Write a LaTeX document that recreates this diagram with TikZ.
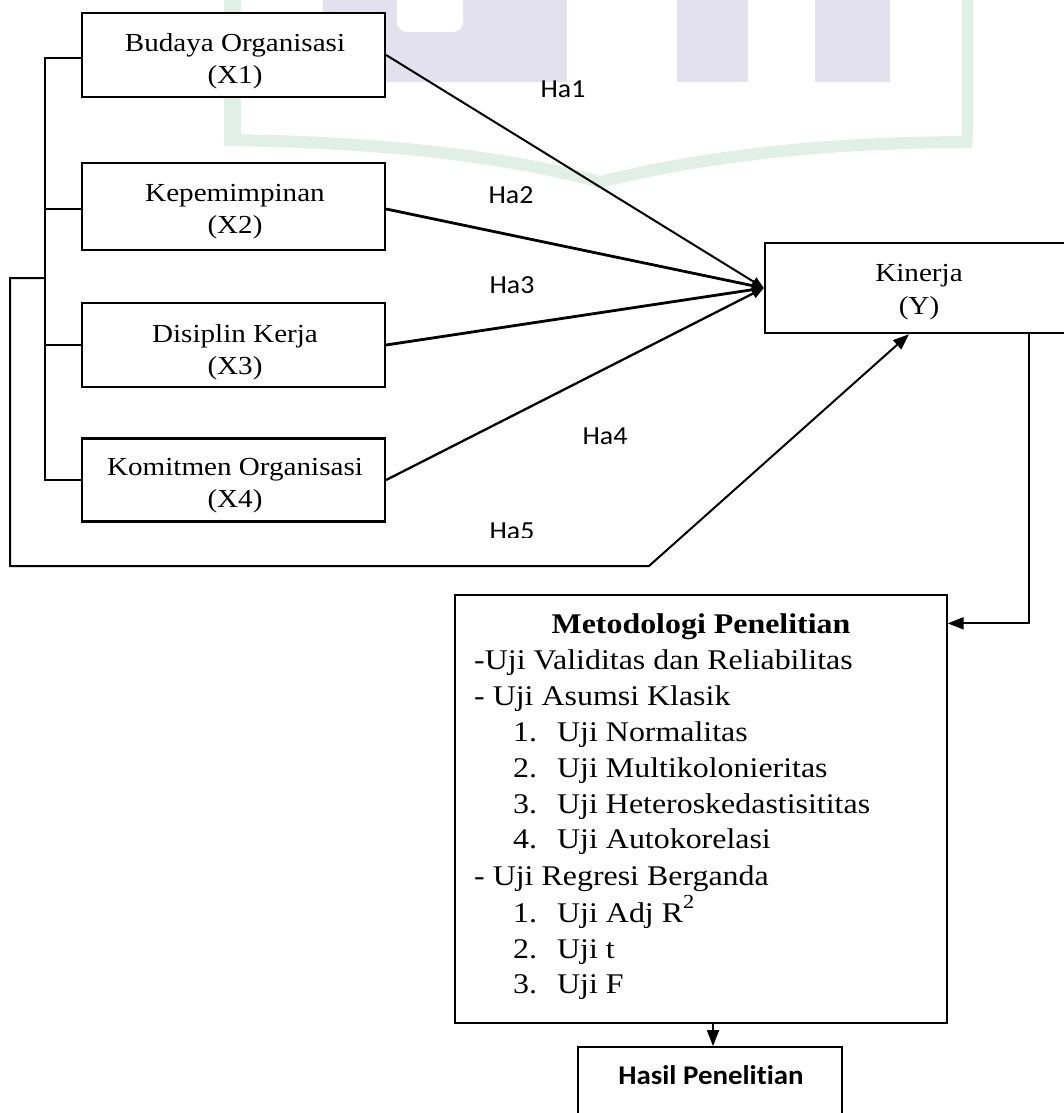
\documentclass[tikz,border=0pt]{standalone}
\usepackage{fontspec}
\setmainfont{Liberation Serif}[FakeStretch=1.12]
\newfontfamily\calib{Carlito}[FakeStretch=1.07, Ligatures=NoCommon]
\usetikzlibrary{arrows.meta,calc}
\definecolor{wmlav}{RGB}{226,225,237}
\definecolor{wmgreen}{RGB}{224,240,230}
\tikzset{
  varbox/.style={draw, line width=2.2pt, fill=white, inner sep=0pt},
  vartext/.style={font=\fontsize{26}{32}\selectfont, align=center, inner sep=0pt, anchor=north},
  halabel/.style={font=\calib\fontsize{26}{30}\selectfont, inner sep=0pt, anchor=base},
  mline/.style={font=\fontsize{28.5}{34}\selectfont, inner sep=0pt, anchor=base west},
  arr/.style={-{Triangle[length=12pt,width=10pt]}},
  bigarr/.style={-{Triangle[length=16pt,width=12pt]}}
}
\newcommand{\numitem}[2]{\makebox[44pt][l]{#1}#2}
\begin{document}
\begin{tikzpicture}[x=1pt,y=-1pt]
\useasboundingbox (0,0) rectangle (1064,1113);
% watermark
\fill[wmlav] (323,0) rectangle (567,82);
\fill[white, rounded corners=10pt] (397,-20) rectangle (463,32);
\fill[wmlav] (677,0) rectangle (748,82);
\fill[wmlav] (815,0) rectangle (890,82);
\draw[wmgreen, line width=17pt] (232,-10) -- (232,138);
\draw[wmgreen, line width=11pt] (967,-10) -- (967,142);
\draw[wmgreen, line width=12pt, line join=miter] (224,140) .. controls (400,142) and (520,160) .. (600,182) .. controls (680,162) and (800,142) .. (972,142);

% boxes
\node[varbox, minimum width=303pt, minimum height=84pt] (bx1) at (233.5,55) {};
\node[varbox, minimum width=303pt, minimum height=87pt] (bx2) at (233.5,206.5) {};
\node[varbox, minimum width=303pt, minimum height=84pt] (bx3) at (233.5,345) {};
\node[varbox, minimum width=303pt, minimum height=83pt] (bx4) at (233.5,480) {};
\node[vartext] (t1) at (235,33.2) {Budaya Organisasi\\(X1)};
\node[vartext] (t2) at (235,183.9) {Kepemimpinan\\(X2)};
\node[vartext] (t3) at (235,323.9) {Disiplin Kerja\\(X3)};
\node[vartext] (t4) at (235,458.2) {Komitmen Organisasi\\(X4)};

\node[draw, line width=2.4pt, fill=white, inner sep=0pt, minimum width=315pt, minimum height=90pt] (kin) at (922.5,288) {};
\node[vartext, font=\fontsize{26}{33}\selectfont] (tk) at (919,263.9) {Kinerja\\(Y)};

\node[draw, line width=1.3pt, fill=white, inner sep=0pt, minimum width=492pt, minimum height=428pt] (met) at (701,809) {};
\node[draw, line width=1.8pt, fill=white, inner sep=0pt, minimum width=264pt, minimum height=83pt] (has) at (710,1088.5) {};

% Metodologi text
\node[mline, anchor=base, font=\bfseries\fontsize{28.5}{34}\selectfont] (m0) at (701,633) {Metodologi Penelitian};
\node[mline] (m1) at (474,669) {-Uji Validitas dan Reliabilitas};
\node[mline] (m2) at (474,705) {- Uji Asumsi Klasik};
\node[mline] (m3) at (513,741) {\numitem{1.}{Uji Normalitas}};
\node[mline] (m4) at (513,777) {\numitem{2.}{Uji Multikolonieritas}};
\node[mline] (m5) at (513,813) {\numitem{3.}{Uji Heteroskedastisititas}};
\node[mline] (m6) at (513,848) {\numitem{4.}{Uji Autokorelasi}};
\node[mline] (m7) at (474,885) {- Uji Regresi Berganda};
\node[mline] (m8) at (513,922) {\numitem{1.}{Uji Adj R\raisebox{4pt}{\textsuperscript{2}}}};
\node[mline] (m9) at (513,958) {\numitem{2.}{Uji t}};
\node[mline] (m10) at (513,993) {\numitem{3.}{Uji F}};

\node[halabel, font=\calib\bfseries\fontsize{27}{30}\selectfont] (th) at (711,1084) {Hasil Penelitian};

% hypothesis labels
\node[halabel] (h1) at (563,98) {Ha1};
\node[halabel] (h2) at (511,203) {Ha2};
\node[halabel] (h3) at (512,293) {Ha3};
\node[halabel] (h4) at (605,444) {Ha4};
\begin{scope}
\clip (470,505) rectangle (560,537);
\node[halabel] (h5) at (512,539) {Ha5};
\end{scope}

% left bus
\coordinate (busx) at (45,0);
\draw[line width=1.5pt] (bx1.west |- 0,58) -- (45,58) -- (bx4.west -| busx) -- (bx4.west);
\draw[line width=1.5pt] (bx2.west |- 0,209) -- (45,209);
\draw[line width=1.5pt] (bx3.west) -- (bx3.west -| busx);

% arrows into Kinerja
\draw[arr, line width=2pt] (bx1.east) -- (kin.west);
\draw[arr, line width=2.8pt] (bx2.east |- 0,209) -- (kin.west);
\draw[arr, line width=2.8pt] (bx3.east) -- (kin.west);
\draw[arr, line width=2.3pt] (bx4.east) -- (kin.west);

% outer loop (Ha5)
\coordinate (lp) at (45,278);
\draw[bigarr, line width=2pt] (lp) -- (10,278) -- (10,566) -- (649,566) -- (kin.south -| 909,0);

% Kinerja -> Metodologi
\coordinate (kd) at (1029,0);
\draw[bigarr, line width=1.8pt] (kin.south -| kd) |- ([yshift=-29pt]met.north east);

% Metodologi -> Hasil
\draw[bigarr, line width=1.8pt] (met.south -| 713,0) -- (has.north -| 713,0);
\end{tikzpicture}
\end{document}
